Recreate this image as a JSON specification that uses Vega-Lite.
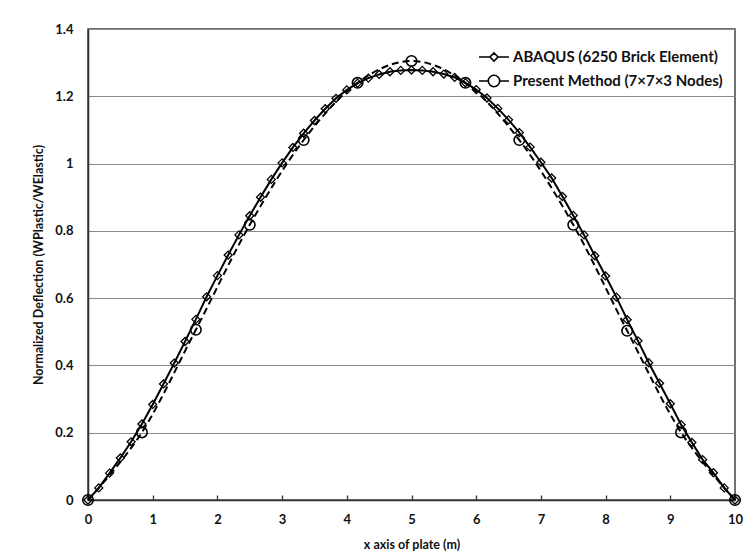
{
  "$schema": "https://vega.github.io/schema/vega-lite/v6.json",
  "width": 647,
  "height": 471,
  "autosize": {"type": "none"},
  "padding": {"left": 88, "top": 29, "right": 19, "bottom": 55},
  "background": "white",
  "datasets": {
    "abaqus": [
      {"x": 0, "y": 0, "series": "ABAQUS (6250 Brick Element)"},
      {"x": 0.1667, "y": 0.036, "series": "ABAQUS (6250 Brick Element)"},
      {"x": 0.3333, "y": 0.080, "series": "ABAQUS (6250 Brick Element)"},
      {"x": 0.5, "y": 0.125, "series": "ABAQUS (6250 Brick Element)"},
      {"x": 0.6667, "y": 0.173, "series": "ABAQUS (6250 Brick Element)"},
      {"x": 0.8333, "y": 0.226, "series": "ABAQUS (6250 Brick Element)"},
      {"x": 1, "y": 0.284, "series": "ABAQUS (6250 Brick Element)"},
      {"x": 1.1667, "y": 0.345, "series": "ABAQUS (6250 Brick Element)"},
      {"x": 1.3333, "y": 0.407, "series": "ABAQUS (6250 Brick Element)"},
      {"x": 1.5, "y": 0.471, "series": "ABAQUS (6250 Brick Element)"},
      {"x": 1.6667, "y": 0.537, "series": "ABAQUS (6250 Brick Element)"},
      {"x": 1.8333, "y": 0.604, "series": "ABAQUS (6250 Brick Element)"},
      {"x": 2, "y": 0.667, "series": "ABAQUS (6250 Brick Element)"},
      {"x": 2.1667, "y": 0.728, "series": "ABAQUS (6250 Brick Element)"},
      {"x": 2.3333, "y": 0.788, "series": "ABAQUS (6250 Brick Element)"},
      {"x": 2.5, "y": 0.845, "series": "ABAQUS (6250 Brick Element)"},
      {"x": 2.6667, "y": 0.900, "series": "ABAQUS (6250 Brick Element)"},
      {"x": 2.8333, "y": 0.953, "series": "ABAQUS (6250 Brick Element)"},
      {"x": 3, "y": 1.002, "series": "ABAQUS (6250 Brick Element)"},
      {"x": 3.1667, "y": 1.048, "series": "ABAQUS (6250 Brick Element)"},
      {"x": 3.3333, "y": 1.090, "series": "ABAQUS (6250 Brick Element)"},
      {"x": 3.5, "y": 1.128, "series": "ABAQUS (6250 Brick Element)"},
      {"x": 3.6667, "y": 1.163, "series": "ABAQUS (6250 Brick Element)"},
      {"x": 3.8333, "y": 1.194, "series": "ABAQUS (6250 Brick Element)"},
      {"x": 4, "y": 1.219, "series": "ABAQUS (6250 Brick Element)"},
      {"x": 4.1667, "y": 1.239, "series": "ABAQUS (6250 Brick Element)"},
      {"x": 4.3333, "y": 1.254, "series": "ABAQUS (6250 Brick Element)"},
      {"x": 4.5, "y": 1.265, "series": "ABAQUS (6250 Brick Element)"},
      {"x": 4.6667, "y": 1.273, "series": "ABAQUS (6250 Brick Element)"},
      {"x": 4.8333, "y": 1.277, "series": "ABAQUS (6250 Brick Element)"},
      {"x": 5, "y": 1.278, "series": "ABAQUS (6250 Brick Element)"},
      {"x": 5.1667, "y": 1.277, "series": "ABAQUS (6250 Brick Element)"},
      {"x": 5.3333, "y": 1.273, "series": "ABAQUS (6250 Brick Element)"},
      {"x": 5.5, "y": 1.266, "series": "ABAQUS (6250 Brick Element)"},
      {"x": 5.6667, "y": 1.256, "series": "ABAQUS (6250 Brick Element)"},
      {"x": 5.8333, "y": 1.240, "series": "ABAQUS (6250 Brick Element)"},
      {"x": 6, "y": 1.220, "series": "ABAQUS (6250 Brick Element)"},
      {"x": 6.1667, "y": 1.195, "series": "ABAQUS (6250 Brick Element)"},
      {"x": 6.3333, "y": 1.164, "series": "ABAQUS (6250 Brick Element)"},
      {"x": 6.5, "y": 1.130, "series": "ABAQUS (6250 Brick Element)"},
      {"x": 6.6667, "y": 1.092, "series": "ABAQUS (6250 Brick Element)"},
      {"x": 6.8333, "y": 1.049, "series": "ABAQUS (6250 Brick Element)"},
      {"x": 7, "y": 1.004, "series": "ABAQUS (6250 Brick Element)"},
      {"x": 7.1667, "y": 0.957, "series": "ABAQUS (6250 Brick Element)"},
      {"x": 7.3333, "y": 0.902, "series": "ABAQUS (6250 Brick Element)"},
      {"x": 7.5, "y": 0.846, "series": "ABAQUS (6250 Brick Element)"},
      {"x": 7.6667, "y": 0.788, "series": "ABAQUS (6250 Brick Element)"},
      {"x": 7.8333, "y": 0.726, "series": "ABAQUS (6250 Brick Element)"},
      {"x": 8, "y": 0.666, "series": "ABAQUS (6250 Brick Element)"},
      {"x": 8.1667, "y": 0.603, "series": "ABAQUS (6250 Brick Element)"},
      {"x": 8.3333, "y": 0.536, "series": "ABAQUS (6250 Brick Element)"},
      {"x": 8.5, "y": 0.473, "series": "ABAQUS (6250 Brick Element)"},
      {"x": 8.6667, "y": 0.408, "series": "ABAQUS (6250 Brick Element)"},
      {"x": 8.8333, "y": 0.347, "series": "ABAQUS (6250 Brick Element)"},
      {"x": 9, "y": 0.286, "series": "ABAQUS (6250 Brick Element)"},
      {"x": 9.1667, "y": 0.224, "series": "ABAQUS (6250 Brick Element)"},
      {"x": 9.3333, "y": 0.171, "series": "ABAQUS (6250 Brick Element)"},
      {"x": 9.5, "y": 0.120, "series": "ABAQUS (6250 Brick Element)"},
      {"x": 9.6667, "y": 0.081, "series": "ABAQUS (6250 Brick Element)"},
      {"x": 9.8333, "y": 0.036, "series": "ABAQUS (6250 Brick Element)"},
      {"x": 10, "y": 0, "series": "ABAQUS (6250 Brick Element)"}
    ],
    "present": [
      {"x": 0, "y": 0, "series": "Present Method (7×7×3 Nodes)"},
      {"x": 0.8333, "y": 0.201, "series": "Present Method (7×7×3 Nodes)"},
      {"x": 1.6667, "y": 0.506, "series": "Present Method (7×7×3 Nodes)"},
      {"x": 2.5, "y": 0.818, "series": "Present Method (7×7×3 Nodes)"},
      {"x": 3.3333, "y": 1.070, "series": "Present Method (7×7×3 Nodes)"},
      {"x": 4.1667, "y": 1.240, "series": "Present Method (7×7×3 Nodes)"},
      {"x": 5, "y": 1.305, "series": "Present Method (7×7×3 Nodes)"},
      {"x": 5.8333, "y": 1.240, "series": "Present Method (7×7×3 Nodes)"},
      {"x": 6.6667, "y": 1.070, "series": "Present Method (7×7×3 Nodes)"},
      {"x": 7.5, "y": 0.818, "series": "Present Method (7×7×3 Nodes)"},
      {"x": 8.3333, "y": 0.503, "series": "Present Method (7×7×3 Nodes)"},
      {"x": 9.1667, "y": 0.201, "series": "Present Method (7×7×3 Nodes)"},
      {"x": 10, "y": 0, "series": "Present Method (7×7×3 Nodes)"}
    ]
  },
  "config": {
    "view": {"stroke": "#444", "strokeWidth": 1.5},
    "font": "Lato",
    "axis": {
      "labelFont": "Lato", "labelFontWeight": "bold", "labelFontSize": 13, "labelColor": "#111",
      "titleFont": "Lato", "titleFontWeight": "bold", "titleFontSize": 12.5, "titleColor": "#111",
      "gridColor": "#8a8a8a", "gridWidth": 1.2, "gridOpacity": 1,
      "domainColor": "#333", "domainWidth": 1.6
    },
    "legend": {
      "labelFont": "Lato", "labelFontWeight": "bold", "labelFontSize": 15, "labelColor": "#111",
      "labelLimit": 400,
      "orient": "top-right", "offset": 12, "labelOffset": 3, "symbolSize": 900, "rowPadding": -6,
      "symbolStrokeWidth": 1.6, "symbolStrokeColor": "black", "symbolFillColor": "transparent",
      "symbolOpacity": 1
    }
  },
  "layer": [
    {
      "data": {"name": "abaqus"},
      "mark": {"type": "line", "strokeWidth": 2, "color": "black", "clip": false},
      "encoding": {
        "x": {
          "field": "x", "type": "quantitative",
          "scale": {"domain": [0, 10], "nice": false},
          "axis": {
            "values": [0, 1, 2, 3, 4, 5, 6, 7, 8, 9, 10], "format": "d",
            "title": "x axis  of plate (m)", "grid": false,
            "tickSize": -5, "tickColor": "#333", "tickWidth": 1.3,
            "labelPadding": 18, "titlePadding": 12, "labelFlush": false
          }
        },
        "y": {
          "field": "y", "type": "quantitative",
          "scale": {"domain": [0, 1.4], "nice": false},
          "axis": {
            "values": [0, 0.2, 0.4, 0.6, 0.8, 1, 1.2, 1.4], "format": "~g",
            "title": "Normalized Deflection (WPlastic/WElastic)", "grid": true,
            "ticks": false, "labelPadding": 15, "titlePadding": 9
          }
        }
      }
    },
    {
      "data": {"name": "present"},
      "mark": {"type": "line", "strokeWidth": 2, "color": "black", "strokeDash": [7, 4], "interpolate": "cardinal", "clip": false},
      "encoding": {
        "x": {"field": "x", "type": "quantitative"},
        "y": {"field": "y", "type": "quantitative"}
      }
    },
    {
      "data": {"name": "abaqus"},
      "mark": {"type": "point", "shape": "diamond", "filled": false, "color": "black", "strokeWidth": 1.3, "size": 64, "opacity": 1, "clip": false},
      "encoding": {
        "x": {"field": "x", "type": "quantitative"},
        "y": {"field": "y", "type": "quantitative"}
      }
    },
    {
      "data": {"name": "present"},
      "mark": {"type": "point", "shape": "circle", "filled": false, "color": "black", "strokeWidth": 1.6, "size": 110, "opacity": 1, "clip": false},
      "encoding": {
        "x": {"field": "x", "type": "quantitative"},
        "y": {"field": "y", "type": "quantitative"}
      }
    },
    {
      "data": {"name": "present"},
      "transform": [{"filter": "datum.x < 0"}],
      "mark": {"type": "point", "filled": false, "color": "black", "strokeWidth": 1.6, "size": 900},
      "encoding": {
        "x": {"field": "x", "type": "quantitative"},
        "y": {"field": "y", "type": "quantitative"},
        "shape": {
          "field": "series", "type": "nominal",
          "scale": {
            "domain": ["ABAQUS (6250 Brick Element)", "Present Method (7×7×3 Nodes)"],
            "range": [
              "M-1,0H-0.27M0.27,0H1M-0.27,0L0,-0.27L0.27,0L0,0.27Z",
              "M-1,0H-0.38M0.38,0H1M-0.38,0A0.38,0.38 0 1,1 0.38,0A0.38,0.38 0 1,1 -0.38,0Z"
            ]
          },
          "legend": {"title": null}
        }
      }
    }
  ]
}
